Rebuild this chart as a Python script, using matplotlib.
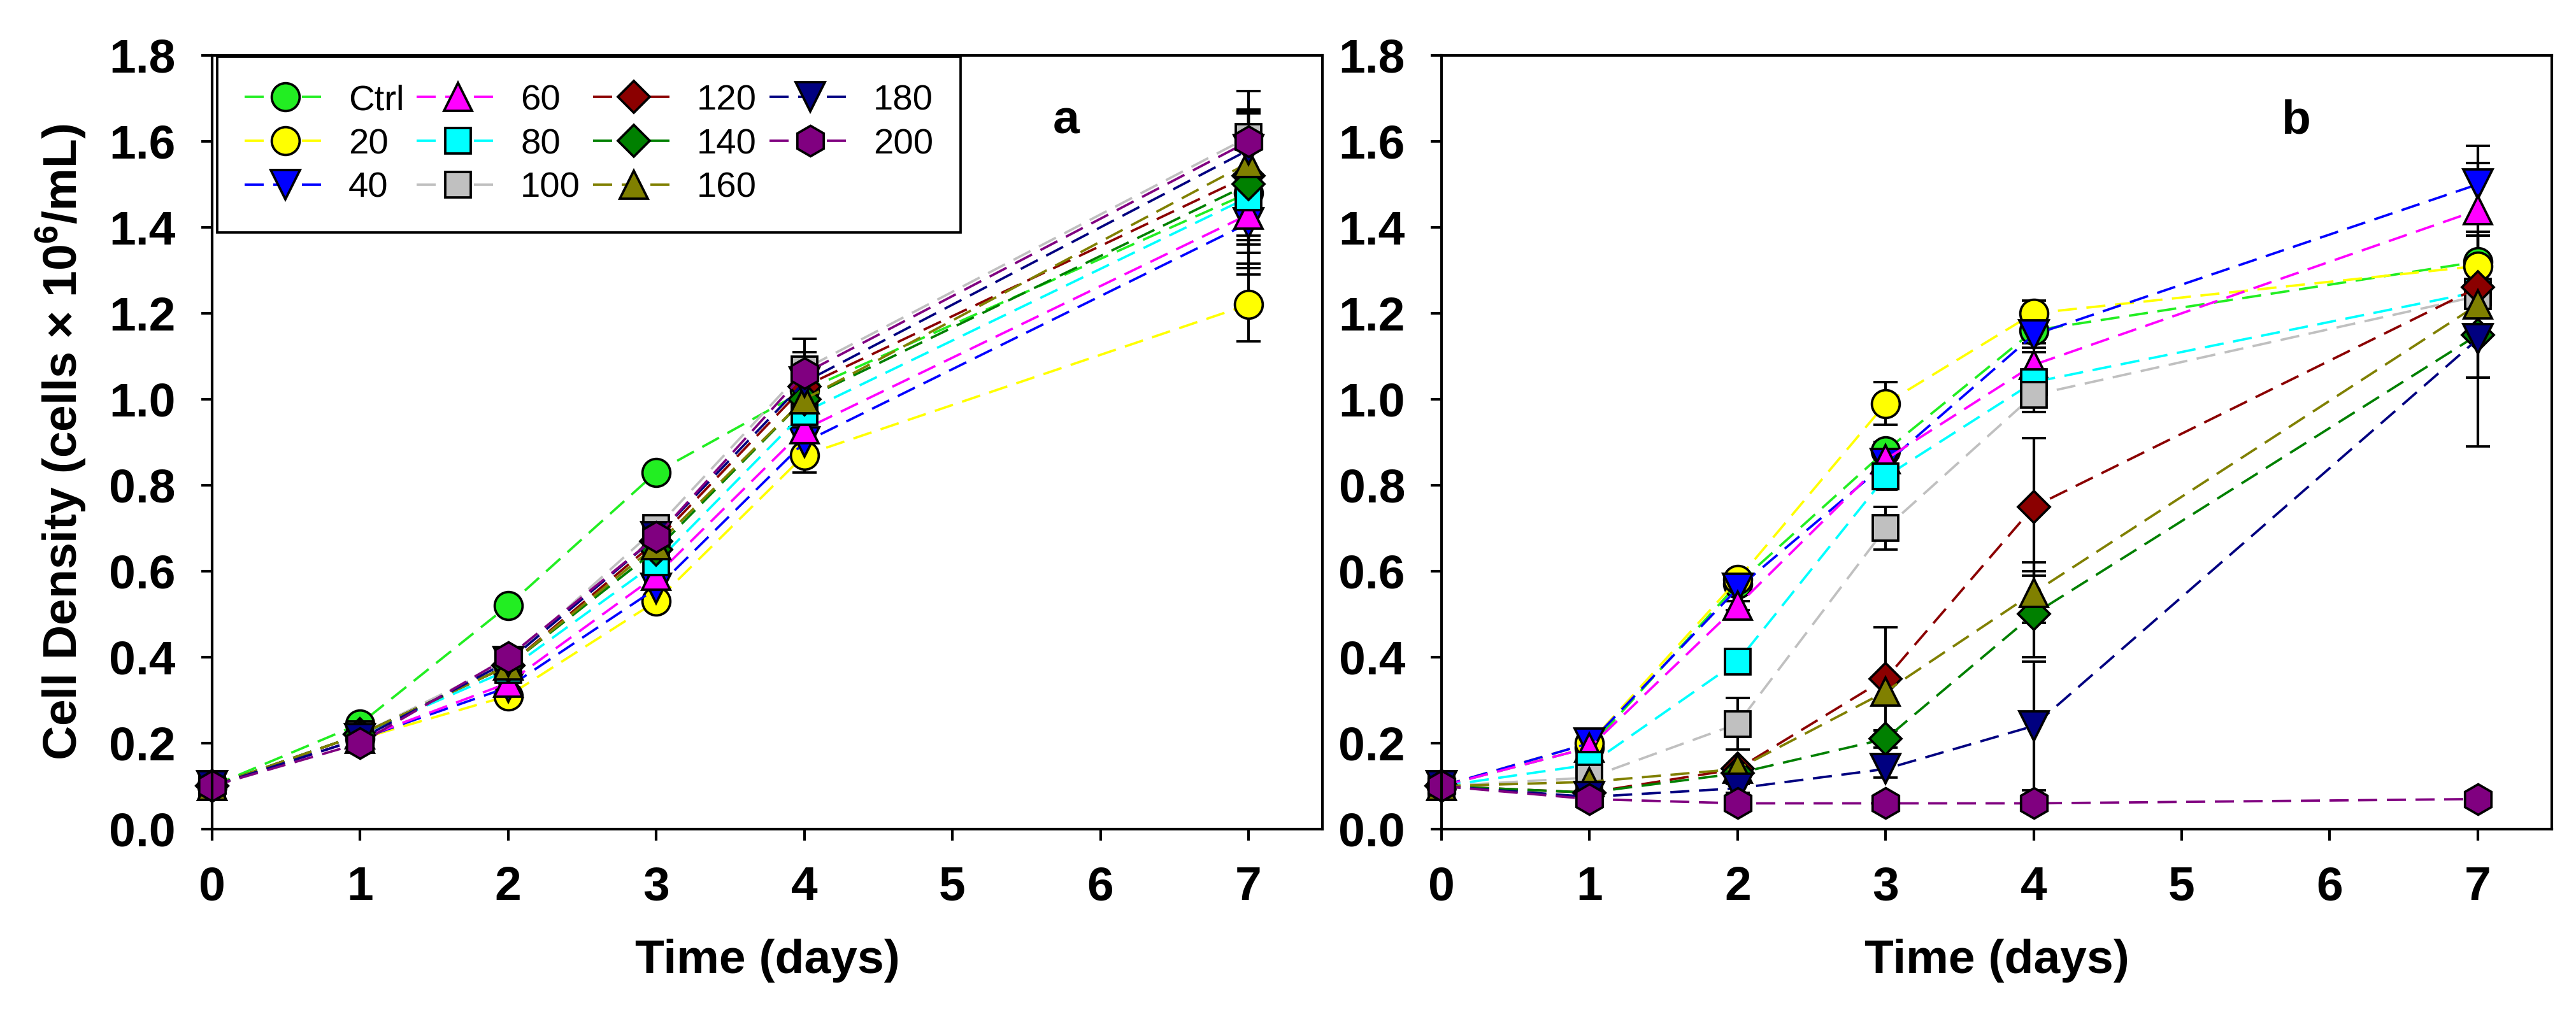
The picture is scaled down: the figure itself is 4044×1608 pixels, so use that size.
#!/usr/bin/env python3
"""Cell density growth curves for two treatments (panels a and b)."""

import matplotlib as mpl
import matplotlib.pyplot as plt

DAYS = [0, 1, 2, 3, 4, 7]
LABELS = ["Ctrl", "20", "40", "60", "80", "100", "120", "140", "160", "180", "200"]
COLORS = ["#22EE22", "#FFFF00", "#0000FF", "#FF00FF", "#00FFFF", "#C0C0C0",
          "#8B0000", "#008000", "#808000", "#000080", "#800080"]
MARKERS = ["o", "o", "v", "^", "s", "s", "D", "D", "^", "v", "h"]
MSIZES = [10.5, 10.5, 11, 10.5, 9.6, 9.6, 8.6, 8.6, 10.5, 11, 11.5]

# panel a, one row per series, columns = DAYS
A_MEAN = [
    [0.10, 0.245, 0.52, 0.83, 1.02, 1.48],
    [0.10, 0.21, 0.31, 0.53, 0.87, 1.22],
    [0.10, 0.21, 0.33, 0.56, 0.90, 1.41],
    [0.10, 0.21, 0.34, 0.59, 0.93, 1.43],
    [0.10, 0.22, 0.37, 0.62, 0.97, 1.47],
    [0.10, 0.22, 0.39, 0.70, 1.07, 1.61],
    [0.10, 0.22, 0.38, 0.67, 1.03, 1.52],
    [0.10, 0.22, 0.38, 0.65, 1.00, 1.50],
    [0.10, 0.22, 0.38, 0.66, 1.00, 1.55],
    [0.10, 0.21, 0.39, 0.68, 1.04, 1.58],
    [0.10, 0.20, 0.40, 0.68, 1.06, 1.60],
]
A_ERR = [
    [0.005, 0.010, 0.010, 0.015, 0.030, 0.190],
    [0.005, 0.010, 0.010, 0.015, 0.040, 0.085],
    [0.005, 0.010, 0.010, 0.015, 0.040, 0.095],
    [0.005, 0.010, 0.010, 0.015, 0.030, 0.070],
    [0.005, 0.010, 0.010, 0.015, 0.030, 0.130],
    [0.005, 0.010, 0.010, 0.020, 0.070, 0.107],
    [0.005, 0.010, 0.010, 0.015, 0.040, 0.150],
    [0.005, 0.010, 0.010, 0.015, 0.040, 0.120],
    [0.005, 0.010, 0.010, 0.015, 0.040, 0.115],
    [0.005, 0.010, 0.010, 0.015, 0.050, 0.090],
    [0.005, 0.010, 0.010, 0.015, 0.050, 0.074],
]

# panel b
B_MEAN = [
    [0.10, 0.19, 0.57, 0.88, 1.16, 1.32],
    [0.10, 0.20, 0.58, 0.99, 1.20, 1.31],
    [0.10, 0.20, 0.56, 0.85, 1.15, 1.50],
    [0.10, 0.19, 0.52, 0.86, 1.08, 1.44],
    [0.10, 0.15, 0.39, 0.82, 1.04, 1.25],
    [0.10, 0.12, 0.245, 0.70, 1.01, 1.24],
    [0.10, 0.085, 0.14, 0.35, 0.75, 1.26],
    [0.10, 0.085, 0.13, 0.21, 0.50, 1.15],
    [0.10, 0.11, 0.14, 0.32, 0.55, 1.22],
    [0.10, 0.075, 0.095, 0.14, 0.24, 1.14],
    [0.10, 0.07, 0.06, 0.06, 0.06, 0.07],
]
B_ERR = [
    [0.005, 0.010, 0.010, 0.020, 0.030, 0.060],
    [0.005, 0.010, 0.010, 0.050, 0.030, 0.070],
    [0.005, 0.010, 0.010, 0.020, 0.030, 0.090],
    [0.005, 0.010, 0.010, 0.020, 0.030, 0.110],
    [0.005, 0.010, 0.010, 0.030, 0.030, 0.050],
    [0.005, 0.010, 0.060, 0.050, 0.040, 0.050],
    [0.005, 0.010, 0.010, 0.120, 0.160, 0.050],
    [0.005, 0.010, 0.010, 0.020, 0.100, 0.100],
    [0.005, 0.010, 0.010, 0.020, 0.070, 0.170],
    [0.005, 0.010, 0.010, 0.020, 0.150, 0.250],
    [0.005, 0.005, 0.005, 0.005, 0.005, 0.005],
]

PANEL_TAGS = ["a", "b"]
TAG_X = 5.77
TAG_Y = 1.647


def style_axes(ax):
    ax.set_xlim(0, 7.5)
    ax.set_ylim(0, 1.8)
    ax.set_xticks(range(0, 8))
    ax.set_yticks([0.0, 0.2, 0.4, 0.6, 0.8, 1.0, 1.2, 1.4, 1.6, 1.8])
    ax.set_yticklabels([f"{v:.1f}" for v in ax.get_yticks()])
    ax.tick_params(direction="out", length=4.2, width=1.0, pad=9.5,
                   labelsize=18, top=False, right=False)
    for lab in ax.get_xticklabels() + ax.get_yticklabels():
        lab.set_fontweight("bold")
    for sp in ax.spines.values():
        sp.set_linewidth(1.0)
        sp.set_color("black")
    ax.set_xlabel("Time (days)", fontsize=18, fontweight="bold", labelpad=11)


def draw_panel(ax, means, errs):
    handles = []
    for i, label in enumerate(LABELS):
        cont = ax.errorbar(
            DAYS, means[i], yerr=errs[i],
            color=COLORS[i], linestyle=(0, (8, 4)), linewidth=0.9,
            marker=MARKERS[i], markersize=MSIZES[i],
            markerfacecolor=COLORS[i], markeredgecolor="black", markeredgewidth=0.9,
            ecolor="black", elinewidth=1.0, capsize=4.6, capthick=1.0,
            clip_on=False,
        )
        handles.append(cont.lines[0])
    return handles


def main():
    mpl.rcParams.update({
        "font.family": ["Liberation Sans", "DejaVu Sans"],
        "mathtext.fontset": "custom",
        "mathtext.rm": "Liberation Sans",
        "mathtext.bf": "Liberation Sans:bold",
    })

    fig = plt.figure(figsize=(13.48, 5.36), dpi=300)
    ax_a = fig.add_axes([0.0823, 0.1903, 0.4311, 0.7556])
    ax_b = fig.add_axes([0.5596, 0.1903, 0.4310, 0.7556])

    handles = draw_panel(ax_a, A_MEAN, A_ERR)
    draw_panel(ax_b, B_MEAN, B_ERR)

    for ax, tag in zip([ax_a, ax_b], PANEL_TAGS):
        style_axes(ax)
        ax.text(TAG_X, TAG_Y, tag, ha="center", va="center", fontsize=18, fontweight="bold")

    ax_a.set_ylabel(r"Cell Density (cells × 10$^{\mathbf{6}}$/mL)",
                    fontsize=18, fontweight="bold", labelpad=8)

    leg = ax_a.legend(
        handles, LABELS, ncol=4, loc="upper left", bbox_to_anchor=(0.0046, 0.998),
        borderaxespad=0, fontsize=13.5, frameon=True, fancybox=False,
        edgecolor="black", framealpha=1, handlelength=2.3, handletextpad=0.6,
        columnspacing=0.35, labelspacing=0.3, borderpad=0.76,
    )
    leg.get_frame().set_linewidth(0.9)
    leg.set_zorder(10)

    fig.savefig("out.png", dpi=300)


if __name__ == "__main__":
    main()
